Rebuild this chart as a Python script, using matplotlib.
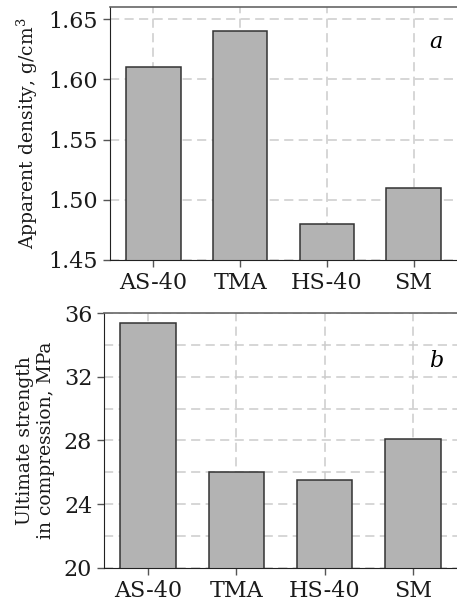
import matplotlib.pyplot as plt
import numpy as np

plt.rcParams['font.family'] = ['DejaVu Serif']
plt.rcParams['mathtext.fontset'] = 'dejavuserif'

samples = ['AS-40', 'TMA', 'HS-40', 'SM']
density = [1.61, 1.64, 1.48, 1.51]
strength = [35.4, 26.0, 25.5, 28.1]

bar_color = '#b3b3b3'
edge_color = '#333333'
grid_color = '#cccccc'

fig = plt.figure(figsize=(4.57, 6.07), dpi=100)

ax1 = fig.add_axes([0.2407, 0.5717, 0.7593, 0.4168])
ax2 = fig.add_axes([0.2276, 0.0643, 0.7724, 0.42])

x = np.arange(len(samples))


def style(ax):
    ax.set_axisbelow(True)
    ax.grid(True, which='both', linestyle=(0, (6, 3.5)), color=grid_color, linewidth=1.1)
    ax.spines['right'].set_visible(False)
    ax.spines['top'].set_color('#666666')
    ax.spines['left'].set_color('#222222')
    ax.spines['bottom'].set_color('#222222')
    ax.spines['top'].set_linewidth(1.2)
    ax.tick_params(axis='both', which='major', labelsize=16, length=5, width=1,
                   color='#555555', labelcolor='#1a1a1a')
    ax.tick_params(axis='y', which='minor', length=0)
    ax.set_xticks(x)
    ax.set_xticklabels(samples)
    ax.set_xlim(-0.5, 3.5)


# top panel: density
ax1.bar(x, density, width=0.63, color=bar_color, edgecolor=edge_color, linewidth=1.1)
style(ax1)
ax1.set_ylim(1.45, 1.66)
ax1.set_yticks([1.45, 1.50, 1.55, 1.60, 1.65])
ax1.set_yticklabels(['1.45', '1.50', '1.55', '1.60', '1.65'])
ax1.set_ylabel('Apparent density, g/cm$^3$', fontsize=13.5, labelpad=6, color='#1a1a1a')
ax1.text(0.94, 0.86, 'a', transform=ax1.transAxes, fontsize=16, style='italic',
         ha='center', va='center')

# bottom panel: strength
ax2.bar(x, strength, width=0.63, color=bar_color, edgecolor=edge_color, linewidth=1.1)
style(ax2)
ax2.set_ylim(20, 36)
ax2.set_yticks([20, 24, 28, 32, 36])
ax2.set_yticks([22, 26, 30, 34], minor=True)
ax2.set_ylabel('Ultimate strength\nin compression, MPa', fontsize=13.5, labelpad=6,
               linespacing=1.25, color='#1a1a1a')
ax2.text(0.94, 0.81, 'b', transform=ax2.transAxes, fontsize=16, style='italic',
         ha='center', va='center')

fig.savefig('out.png', dpi=100)
